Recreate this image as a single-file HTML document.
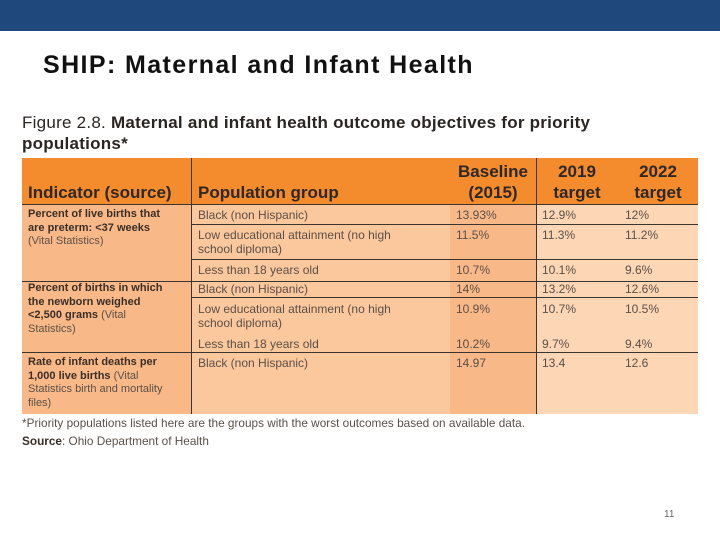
<!DOCTYPE html>
<html><head><meta charset="utf-8"><style>
body{margin:0;width:720px;height:540px;position:relative;background:#fff;font-family:"Liberation Sans",sans-serif;overflow:hidden}
.a{position:absolute}
.t{position:absolute;font-size:12px;color:#5a5048;line-height:14px;white-space:nowrap}
.b{font-weight:bold;color:#3a2f28;font-size:11px;line-height:13.5px}
.h{position:absolute;font-size:17px;font-weight:bold;color:#2e2824;line-height:21px;text-align:center;white-space:nowrap}
.hl{position:absolute;height:1px;background:#3b3530}
</style></head><body>
<div class="a" style="left:0;top:0;width:720px;height:31px;background:#1f497d"></div>
<div class="a" style="left:43px;top:51px;font-size:25px;font-weight:bold;color:#111;letter-spacing:1.4px">SHIP: Maternal and Infant Health</div>
<div class="a" style="left:22px;top:112px;font-size:17px;color:#2b2522;line-height:21px;font-weight:bold;letter-spacing:0.25px"><span style="font-weight:normal">Figure 2.8.</span> Maternal and infant health outcome objectives for priority<br>populations*</div>
<div>
<div class="a" style="left:22px;top:158px;width:676px;height:46px;background:#f48c2e"></div>
<div class="a" style="left:22px;top:204px;width:170px;height:210px;background:#f9b887"></div>
<div class="a" style="left:192px;top:204px;width:258px;height:210px;background:#fbc79c"></div>
<div class="a" style="left:450px;top:204px;width:86px;height:210px;background:#f9b887"></div>
<div class="a" style="left:536px;top:204px;width:162px;height:210px;background:#fcd6b5"></div>
<div class="a" style="left:191px;top:158px;width:1px;height:256px;background:#3b3530"></div>
<div class="a" style="left:536px;top:158px;width:1px;height:256px;background:#3b3530"></div>
<div class="hl" style="left:22px;width:676px;top:204px"></div>
<div class="hl" style="left:192px;width:506px;top:224px"></div>
<div class="hl" style="left:192px;width:506px;top:259px"></div>
<div class="hl" style="left:22px;width:676px;top:281px"></div>
<div class="hl" style="left:192px;width:506px;top:297px"></div>
<div class="hl" style="left:22px;width:676px;top:352px"></div>
<div class="h" style="left:28px;top:182px;text-align:left">Indicator (source)</div>
<div class="h" style="left:198px;top:182px;text-align:left">Population group</div>
<div class="h" style="left:450px;top:161px;width:86px">Baseline<br>(2015)</div>
<div class="h" style="left:536px;top:161px;width:82px">2019<br>target</div>
<div class="h" style="left:618px;top:161px;width:80px">2022<br>target</div>

<div class="t b" style="left:28px;top:208px">Percent of live births that<br>are preterm: &lt;37 weeks<br><span style="font-weight:normal;color:#5a5048">(Vital Statistics)</span></div>
<div class="t b" style="left:28px;top:282px">Percent of births in which<br>the newborn weighed<br>&lt;2,500 grams <span style="font-weight:normal;color:#5a5048">(Vital<br>Statistics)</span></div>
<div class="t b" style="left:28px;top:356px">Rate of infant deaths per<br>1,000 live births <span style="font-weight:normal;color:#5a5048">(Vital<br>Statistics birth and mortality<br>files)</span></div>

<div class="t" style="left:198px;top:208px">Black (non Hispanic)</div>
<div class="t" style="left:198px;top:228px">Low educational attainment (no high<br>school diploma)</div>
<div class="t" style="left:198px;top:263px">Less than 18 years old</div>
<div class="t" style="left:198px;top:282px">Black (non Hispanic)</div>
<div class="t" style="left:198px;top:302px">Low educational attainment (no high<br>school diploma)</div>
<div class="t" style="left:198px;top:337px">Less than 18 years old</div>
<div class="t" style="left:198px;top:356px">Black (non Hispanic)</div>

<div class="t" style="left:456px;top:208px">13.93%</div><div class="t" style="left:542px;top:208px">12.9%</div><div class="t" style="left:625px;top:208px">12%</div>
<div class="t" style="left:456px;top:228px">11.5%</div><div class="t" style="left:542px;top:228px">11.3%</div><div class="t" style="left:625px;top:228px">11.2%</div>
<div class="t" style="left:456px;top:263px">10.7%</div><div class="t" style="left:542px;top:263px">10.1%</div><div class="t" style="left:625px;top:263px">9.6%</div>
<div class="t" style="left:456px;top:282px">14%</div><div class="t" style="left:542px;top:282px">13.2%</div><div class="t" style="left:625px;top:282px">12.6%</div>
<div class="t" style="left:456px;top:302px">10.9%</div><div class="t" style="left:542px;top:302px">10.7%</div><div class="t" style="left:625px;top:302px">10.5%</div>
<div class="t" style="left:456px;top:337px">10.2%</div><div class="t" style="left:542px;top:337px">9.7%</div><div class="t" style="left:625px;top:337px">9.4%</div>
<div class="t" style="left:456px;top:356px">14.97</div><div class="t" style="left:542px;top:356px">13.4</div><div class="t" style="left:625px;top:356px">12.6</div>
</div>
<div class="t" style="left:22px;top:416px;font-size:11.8px">*Priority populations listed here are the groups with the worst outcomes based on available data.</div>
<div class="t" style="left:22px;top:434px;font-size:11.8px"><b style="color:#3a2f28">Source</b>: Ohio Department of Health</div>
<div class="a" style="left:664px;top:509px;font-size:10px;color:#666">11</div>
</body></html>
